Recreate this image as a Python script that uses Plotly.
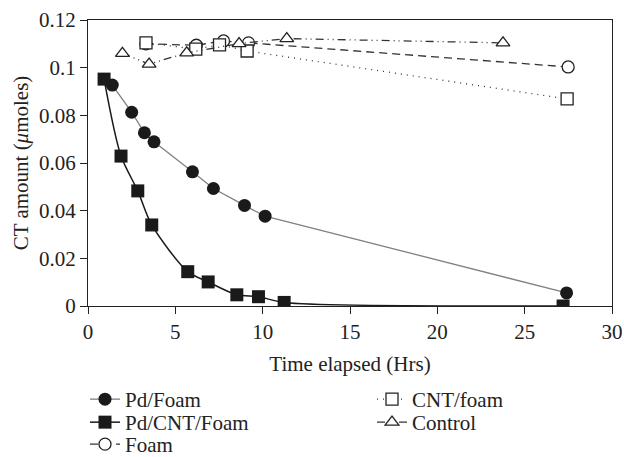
import plotly.graph_objects as go

# Pd/Foam
pdf_x = [1.39, 2.50, 3.23, 3.78, 5.98, 7.18, 8.96, 10.14, 27.40]
pdf_y = [0.0927, 0.0813, 0.0727, 0.0689, 0.0563, 0.0493, 0.0422, 0.0377, 0.0055]
# Pd/CNT/Foam
pcf_x = [0.92, 1.89, 2.85, 3.65, 5.71, 6.88, 8.52, 9.76, 11.23, 27.20]
pcf_y = [0.0952, 0.0629, 0.0483, 0.0340, 0.0144, 0.0101, 0.0047, 0.0039, 0.0015, 0.0]
# Foam
foam_x = [3.32, 6.20, 7.76, 9.19, 27.49]
foam_y = [0.1100, 0.1094, 0.1112, 0.1104, 0.1003]
# CNT/foam
cnt_x = [3.32, 6.17, 7.53, 9.11, 27.43]
cnt_y = [0.1104, 0.1078, 0.1096, 0.1070, 0.0869]
# Control
ctl_x = [1.97, 3.50, 5.65, 8.65, 11.38, 23.76]
ctl_y = [0.1060, 0.1015, 0.1062, 0.1101, 0.1122, 0.1104]

FONT = "Liberation Serif"
FS = 21
W, H = 624, 457
ml, mr, mt, mb = 88, 12, 20, 151
pw, ph = W - ml - mr, H - mt - mb

def px(x):
    return (x - ml) / pw

def py(y):
    return (H - mb - y) / ph

fig = go.Figure()
open_marker = dict(color="white", size=12, line=dict(color="#222", width=1.3))

fig.add_trace(go.Scatter(x=foam_x, y=foam_y, name="Foam", mode="lines+markers",
                         line=dict(color="#333", width=1.3, dash="8px,5px"),
                         marker=dict(symbol="circle", **open_marker),
                         legend="legend3"))
fig.add_trace(go.Scatter(x=cnt_x, y=cnt_y, name="CNT/foam", mode="lines+markers",
                         line=dict(color="#333", width=1.3, dash="1px,5px"),
                         marker=dict(symbol="square", **open_marker), legend="legend4"))
fig.add_trace(go.Scatter(x=ctl_x, y=ctl_y, name="Control", mode="lines+markers",
                         line=dict(color="#333", width=1.3, dash="8px,4px,1px,4px,1px,4px"),
                         marker=dict(symbol="triangle-up", **open_marker), legend="legend5"))
fig.add_trace(go.Scatter(x=pdf_x, y=pdf_y, name="Pd/Foam", mode="lines+markers",
                         line=dict(color="#808080", width=1.3),
                         marker=dict(symbol="circle", color="#1a1a1a", size=13), legend="legend"))
fig.add_trace(go.Scatter(x=pcf_x, y=pcf_y, name="Pd/CNT/Foam", mode="lines+markers",
                         line=dict(color="#1a1a1a", width=1.5, shape="spline", smoothing=0.8),
                         marker=dict(symbol="square", color="#1a1a1a", size=13), legend="legend2"))

axis_common = dict(showline=True, linecolor="#222", linewidth=1.3, mirror=True,
                   ticks="outside", ticklen=7, tickwidth=1.3, tickcolor="#222",
                   showgrid=False, zeroline=False, automargin=False,
                   tickfont=dict(family=FONT, size=FS, color="#222"))

def leg(xp, ytop):
    return dict(x=px(xp), y=py(ytop), xanchor="left", yanchor="top",
                font=dict(family=FONT, size=FS), itemwidth=30, tracegroupgap=0,
                bgcolor="rgba(0,0,0,0)")

fig.update_layout(
    width=W, height=H,
    margin=dict(l=ml, r=mr, t=mt, b=mb, autoexpand=False),
    plot_bgcolor="white", paper_bgcolor="white",
    font=dict(family=FONT, size=FS, color="#222"),
    xaxis=dict(range=[0, 30], tickvals=[0, 5, 10, 15, 20, 25, 30],
               title=dict(text="Time elapsed (Hrs)", font=dict(family=FONT, size=FS), standoff=12),
               **axis_common),
    yaxis=dict(range=[0, 0.12], tickvals=[0, 0.02, 0.04, 0.06, 0.08, 0.1, 0.12],
               ticktext=["0", "0.02", "0.04", "0.06", "0.08", "0.1", "0.12"],
               title=dict(text="CT amount (<i>μ</i>moles)", font=dict(family=FONT, size=FS), standoff=4),
               **axis_common),
    legend=leg(85, 379),
    legend2=leg(85, 402),
    legend3=leg(85, 424),
    legend4=leg(372, 379),
    legend5=leg(372, 402),
    showlegend=True,
)

fig.write_html("out.html")
